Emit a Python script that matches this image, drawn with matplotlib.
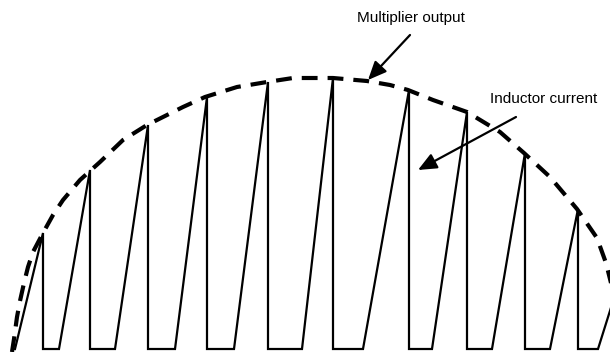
import matplotlib
matplotlib.use('Agg')
import matplotlib.pyplot as plt

# inductor current: ramp start, peak (switch-off) position and peak height
ramp_start = [15, 59, 115, 175, 234, 302, 363, 432, 492, 550, 598]
peak_x = [43, 90, 148, 207, 268, 333, 409, 467, 525, 578, 625]
peak_h = [116, 179, 224, 252, 267, 271, 259, 237, 196, 140, 86]

# multiplier output envelope
env_x = [12, 14, 17, 20, 24, 28, 33, 43, 53, 63, 80, 100, 123, 147, 183, 205, 237,
         267, 293, 333, 367, 390, 408, 433, 467, 500, 524, 550, 577, 597, 606, 612]
env_h = [-3, 10, 32, 48, 66, 82, 97, 116, 134, 149, 169, 187, 209, 224, 242, 252, 262,
         267, 271, 271, 268, 264, 259, 249, 237, 217, 196, 172, 140, 111, 86, 62]

plt.rcParams['font.family'] = ['Liberation Sans', 'DejaVu Sans']

fig = plt.figure(figsize=(6.10, 3.52), dpi=100)
ax = fig.add_axes([0, 0, 1, 1])
ax.set_xlim(0, 610)
ax.set_ylim(-3, 349)
ax.axis('off')

xs, ys = [], []
for s, p, h in zip(ramp_start, peak_x, peak_h):
    xs += [s, p, p]
    ys += [0, h, 0]
ax.plot(xs, ys, color='black', lw=1.6, solid_joinstyle='miter')

ax.plot(env_x, env_h, color='black', lw=3, dashes=(3.8, 2.4))

arrow = dict(arrowstyle='-|>,head_length=0.8,head_width=0.35', color='black',
             lw=1.6, mutation_scale=14, shrinkA=0, shrinkB=0)
ax.annotate('', xy=(368, 349 - 80), xytext=(410, 349 - 35), arrowprops=arrow)
ax.annotate('', xy=(418, 349 - 170), xytext=(516, 349 - 117), arrowprops=arrow)

ax.text(411, 349 - 18, 'Multiplier output', fontsize=11, ha='center', va='center')
ax.text(490, 349 - 99, 'Inductor current', fontsize=11, ha='left', va='center')

fig.savefig('out.png', dpi=100)
